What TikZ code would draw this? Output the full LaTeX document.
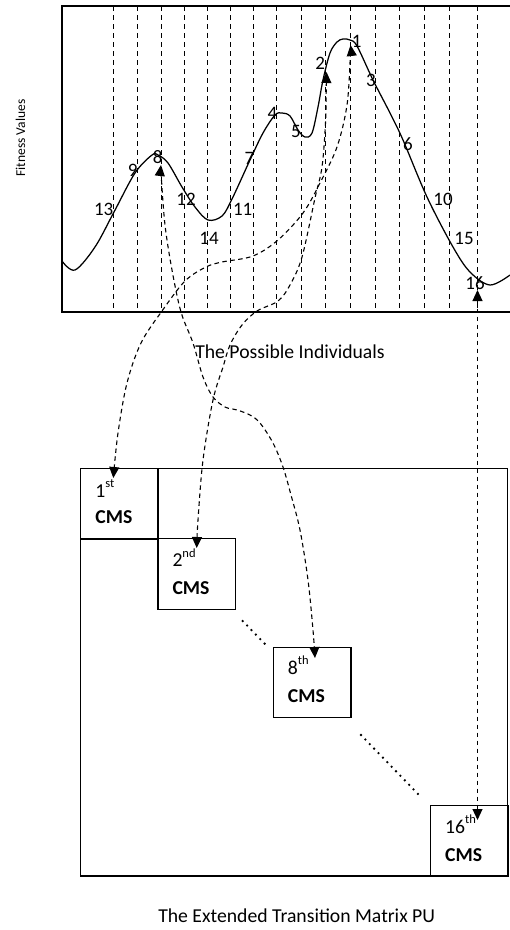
\documentclass[tikz,border=0pt]{standalone}
\usepackage{fontspec}
\setmainfont{Carlito}
\usetikzlibrary{arrows.meta}
\newcommand\ordsup[1]{\raisebox{9.5pt}{\fontsize{12.5}{13}\selectfont #1}}
\begin{document}
\begin{tikzpicture}[x=1pt,y=-1pt,
  frame/.style={line width=1.3pt},
  gridline/.style={line width=1pt, dash pattern=on 5pt off 4pt},
  curve/.style={line width=1.25pt},
  conn/.style={line width=1.1pt, dash pattern=on 4.5pt off 3.5pt,
    arrows={Triangle[length=11pt,width=10pt]-Triangle[length=11pt,width=10pt]}},
  lbl/.style={font=\fontsize{19}{20}\selectfont, inner sep=0pt},
  ttl/.style={font=\fontsize{19.7}{21}\selectfont, inner sep=0pt},
  ordlbl/.style={font=\fontsize{19.7}{21}\selectfont, inner sep=0pt, anchor=base west},
  cmslbl/.style={font=\fontsize{19.7}{21}\selectfont\bfseries, inner sep=0pt, anchor=base west},
  cmsbox/.style={draw, line width=1.2pt, minimum width=77.5pt, minimum height=70.5pt, inner sep=0pt, outer sep=0pt},
  dotrow/.style={line width=2.6pt, line cap=round, dash pattern=on 0pt off 6.3pt}
]
\useasboundingbox (0,0) rectangle (510,930);

% grid of possible individuals
\foreach \gx in {113.5,137.5,161,184,207,230,253,276.5,301,325.5,350.5,375,399.5,424.5,449.5,477.5}
  \draw[gridline] (\gx,6) -- (\gx,312);

% fitness landscape
\draw[curve] plot[smooth, tension=0.55] coordinates {
 (62,261) (75,270) (95,247) (114,212) (135,173) (152,155) (158,155) (168,163)
 (182,187) (195,207) (208,220) (222,216) (232,199) (250,160) (263,133) (275,115)
 (282,113) (290,116) (298,130) (305,137) (312,133) (318,107) (323,80) (330,53)
 (337,42) (343,39) (350,40) (357,46) (373,80) (390,113) (403,140) (427,197)
 (453,247) (470,272) (490,285) (510,275)};

% frame of the plot
\draw[frame] (510,6) -- (62,6) -- (62,312) -- (510,312);

% labels on the curve
\node[lbl] (l1)  at (356.7,41.7) {1};
\node[lbl] (l2)  at (320.3,63.3) {2};
\node[lbl] (l3)  at (371,80) {3};
\node[lbl] (l4)  at (272.5,113) {4};
\node[lbl] (l5)  at (296,131.5) {5};
\node[lbl] (l6)  at (408,144.5) {6};
\node[lbl] (l7)  at (249.5,158.3) {7};
\node[lbl] (l8)  at (157.7,157) {8};
\node[lbl] (l9)  at (132.7,170.8) {9};
\node[lbl] (l10) at (443,199.5) {10};
\node[lbl] (l11) at (242.7,209.3) {11};
\node[lbl] (l12) at (186,199.5) {12};
\node[lbl] (l13) at (103.7,209.5) {13};
\node[lbl] (l14) at (209,238) {14};
\node[lbl] (l15) at (464,238.3) {15};
\node[lbl] (l16) at (475,283.3) {16};

% axis texts
\node[font=\fontsize{13.5}{14}\selectfont, rotate=90, inner sep=0pt] (fv) at (20.5,138) {Fitness Values};
\node[ttl, anchor=base] (tpi) at (290,358.3) {The Possible Individuals};
\node[ttl, anchor=base] (tpu) at (296.7,922.5) {The Extended Transition Matrix PU};

% transition matrix
\node[draw, line width=1.2pt, minimum width=427pt, minimum height=407.7pt, inner sep=0pt, outer sep=0pt] (pu) at (294.2,672.15) {};
\node[cmsbox] (b1)  at (119.2,503.65) {};
\node[cmsbox] (b2)  at (196.7,574) {};
\node[cmsbox] (b8)  at (312.15,682.5) {};
\node[cmsbox] (b16) at (469.2,840.85) {};

\node[ordlbl] (o1)  at (95.2,497) {1\ordsup{st}};
\node[cmslbl] (c1)  at (95.2,523.3) {CMS};
\node[ordlbl] (o2)  at (172.3,566.7) {2\ordsup{nd}};
\node[cmslbl] (c2)  at (172.3,594.3) {CMS};
\node[ordlbl] (o8)  at (287.7,674) {8\ordsup{th}};
\node[cmslbl] (c8)  at (287.7,702.7) {CMS};
\node[ordlbl] (o16) at (445,833.3) {16\ordsup{th}};
\node[cmslbl] (c16) at (445,861.7) {CMS};

% ellipsis dots
\coordinate (d1a) at (242.7,621);
\coordinate (d1b) at (265,644);
\coordinate (d2a) at (361,735);
\coordinate (d2b) at (418,794);
\draw[dotrow] (d1a) -- (d1b);
\draw[dotrow] (d2a) -- (d2b);

% connector end points
\coordinate (p1)  at (350.5,45);
\coordinate (p2)  at (326.5,72);
\coordinate (p8)  at (161,165);
\coordinate (p16) at (477.5,290);
\coordinate (t1)  at (113.3,478);
\coordinate (t2)  at (196.7,548);
\coordinate (t8)  at (315,658);
\coordinate (t16) at (477.5,820);

% connectors
\draw[conn] plot[smooth, tension=0.55] coordinates {
 (p1) (350.3,57) (347,105) (337,147) (320,183) (303,213) (278,240) (253,256)
 (222,262) (206,267) (185,281) (162,311) (141,343) (127,383) (118,433) (t1)};
\draw[conn] plot[smooth, tension=0.55] coordinates {
 (p2) (326.3,84) (325.5,123) (322,167) (315,198) (302,257) (290,285) (278,301)
 (257,311) (242,325) (230,345) (223,367) (213,400) (203,460) (198,520) (t2)};
\draw[conn] plot[smooth, tension=0.55] coordinates {
 (p8) (161.3,177) (165,225) (172,270) (181,312) (193,343) (203,377) (213,397)
 (225,407) (237,410) (250,415) (260,423) (273,443) (283,467) (291,495)
 (300,530) (308,580) (313,630) (t8)};
\draw[conn] (p16) -- (t16);
\end{tikzpicture}
\end{document}
